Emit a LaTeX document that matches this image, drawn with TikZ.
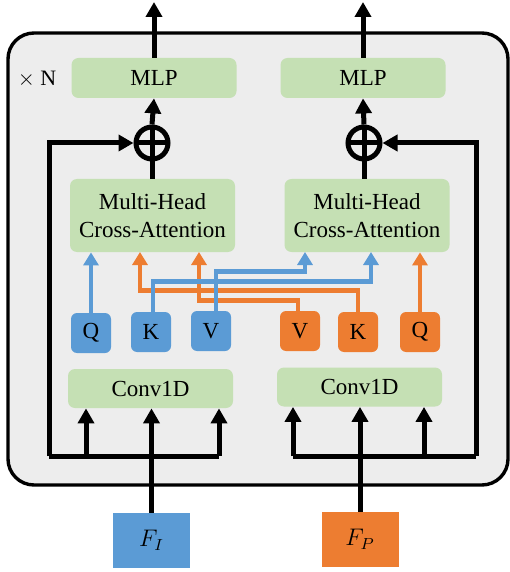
\documentclass[tikz,border=0pt]{standalone}
\usepackage{fontspec}
\setmainfont{Liberation Serif}
\usetikzlibrary{arrows.meta}
\definecolor{bggray}{HTML}{EDEDED}
\definecolor{blockgreen}{HTML}{C5E0B4}
\definecolor{imgblue}{HTML}{5B9BD5}
\definecolor{ptorange}{HTML}{ED7D31}
\tikzset{
  block/.style={fill=blockgreen,rounded corners=3.5pt,inner sep=0pt,minimum width=82.5pt,align=center,font=\fontsize{11.5}{14}\selectfont},
  qkvbox/.style={rounded corners=3pt,inner sep=0pt,minimum size=20pt,font=\fontsize{11.5}{14}\selectfont},
  inbox/.style={inner sep=0pt,minimum width=38.5pt,minimum height=27.5pt,font=\fontsize{12}{14}\selectfont},
  addnode/.style={circle,draw,line width=2.5pt,minimum size=16pt,inner sep=0pt,
    path picture={\draw[line width=2.5pt] (path picture bounding box.north) -- (path picture bounding box.south)
      (path picture bounding box.west) -- (path picture bounding box.east);}},
  blk/.style={line width=2.5pt},
  blkarrow/.style={line width=2.5pt,-{Triangle[length=7.5pt,width=8pt]}},
  bluearrow/.style={imgblue,line width=2.2pt,-{Triangle[length=6.5pt,width=7.5pt]}},
  orangearrow/.style={ptorange,line width=2.2pt,-{Triangle[length=6.5pt,width=7.5pt]}}
}
\begin{document}
\begin{tikzpicture}[x=0.5pt,y=-0.5pt]
\useasboundingbox (0,0) rectangle (509,572);
\draw[rounded corners=13pt,fill=bggray,line width=1.7pt] (8,33) rectangle (508,485);
\node at (37,79) {\fontsize{11}{13}\selectfont$\times$ N};
% blocks
  \node[block,minimum height=20pt] (mlpI) at (154,78) {MLP};
  \node[block,minimum height=20pt] (mlpP) at (363,78) {MLP};
  \node[block,minimum height=36.5pt] (attI) at (152.5,215.5) {Multi-Head\\Cross-Attention};
  \node[block,minimum height=36.5pt] (attP) at (367,215.5) {Multi-Head\\Cross-Attention};
  \node[block,minimum height=19.5pt] (convI) at (150.5,388.5) {Conv1D};
  \node[block,minimum height=19.5pt] (convP) at (359.5,387) {Conv1D};
  \node[addnode] (addI) at (152,143) {};
  \node[addnode] (addP) at (364,143) {};
% queries, keys, values
  \node[qkvbox,fill=imgblue] (qI) at (91,333) {Q};
  \node[qkvbox,fill=imgblue] (kI) at (151,332) {K};
  \node[qkvbox,fill=imgblue] (vI) at (211,331) {V};
  \node[qkvbox,fill=ptorange] (vP) at (300,331) {V};
  \node[qkvbox,fill=ptorange] (kP) at (358,332) {K};
  \node[qkvbox,fill=ptorange] (qP) at (420,332) {Q};
% inputs
  \node[inbox,fill=imgblue] (fI) at (151.5,540.5) {$F_{I}$};
  \node[inbox,fill=ptorange] (fP) at (360,539.5) {$F_{P}$};
  \coordinate (outI) at (154,2);
  \coordinate (outP) at (363,2);
  \coordinate (resI) at (49,456);
  \coordinate (resP) at (476,456);
  \coordinate (splitI1) at (86,456);
  \coordinate (splitI3) at (219,456);
  \coordinate (splitP1) at (293,456);
  \coordinate (splitP3) at (424,456);
  \coordinate (inI1) at (140,252);
  \coordinate (inI2) at (199,252);
  \coordinate (inP1) at (305,252);
  \coordinate (inP2) at (371,252);
% black paths
  \draw[blkarrow] (mlpI.north) -- (outI);
  \draw[blkarrow] (mlpP.north) -- (outP);
  \draw[blkarrow] (addI.north) -- (mlpI.south);
  \draw[blkarrow] (addP.north) -- (mlpP.south);
  \draw[blk] (attI.north -| addI) -- (addI.south);
  \draw[blk] (attP.north -| addP) -- (addP.south);
  \draw[blkarrow] (resI) |- (addI.west);
  \draw[blkarrow] (resP) |- (addP.east);
  \draw[blk] (resI) -- (splitI3);
  \draw[blk] (splitP1) -- (resP);
  \draw[blkarrow] (fI.north) -- (fI.north |- convI.south);
  \draw[blkarrow] (fP.north) -- (fP.north |- convP.south);
  \draw[blkarrow] (splitI1) -- (splitI1 |- convI.south);
  \draw[blkarrow] (splitI3) -- (splitI3 |- convI.south);
  \draw[blkarrow] (splitP1) -- (splitP1 |- convP.south);
  \draw[blkarrow] (splitP3) -- (splitP3 |- convP.south);
% cross connections
  \draw[orangearrow] (kP.north) -- ++(0,-21) -| (inI1);
  \draw[orangearrow] ([xshift=-1pt]vP.north) -- ++(0,-10) -| (inI2);
  \draw[orangearrow] (qP.north) -- (qP.north |- attP.south);
  \draw[bluearrow] (qI.north) -- (qI.north |- attI.south);
  \draw[bluearrow] ([xshift=1pt]kI.north) -- ++(0,-30) -| (inP2);
  \draw[bluearrow] ([xshift=2.5pt]vI.north) -- ++(0,-39) -| (inP1);
\end{tikzpicture}
\end{document}
